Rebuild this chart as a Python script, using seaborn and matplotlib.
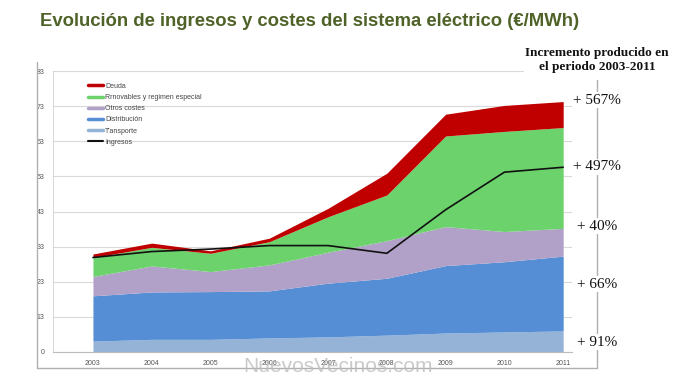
import numpy as np
import pandas as pd
import matplotlib
matplotlib.use("Agg")
import matplotlib.pyplot as plt
from matplotlib.lines import Line2D
import seaborn as sns

# ── data (€/MWh) ─────────────────────────────────────────
years = [2003, 2004, 2005, 2006, 2007, 2008, 2009, 2010, 2011]
transporte = [3.1, 3.6, 3.6, 4.0, 4.3, 4.8, 5.4, 5.7, 6.0]
distribucion = [12.9, 13.5, 13.6, 13.4, 15.3, 16.2, 19.2, 20.0, 21.3]
otros_costes = [5.5, 7.4, 5.7, 7.4, 8.8, 10.7, 11.1, 8.6, 7.9]
renovables = [5.4, 5.3, 5.2, 6.6, 10.1, 13.0, 25.8, 28.5, 28.7]
deuda = [1.0, 1.2, 0.7, 1.0, 2.4, 6.2, 6.2, 7.4, 7.4]
ingresos = [26.9, 28.6, 29.3, 30.3, 30.3, 28.1, 40.5, 51.2, 52.6]

ytick_vals = [0, 10, 20, 30, 40, 50, 60, 70, 80]
ytick_labels = ["0", "13", "23", "33", "43", "53", "63", "73", "83"]

increments = ["+ 567%", "+ 497%", "+ 40%", "+ 66%", "+ 91%"]

title = "Evolución de ingresos y costes del sistema eléctrico (€/MWh)"
side_header = "Incremento producido en\nel periodo 2003-2011"

colors = {
    "Deuda": "#c00000",
    "Rrnovables y regimen especial": "#6cd36c",
    "Otros costes": "#b1a0c7",
    "Distribución": "#558ed5",
    "T'ansporte": "#95b3d7",
}

# ── figure ───────────────────────────────────────────────
sns.set_style("white")
plt.rcParams["font.family"] = ["Liberation Sans", "DejaVu Sans"]

fig = plt.figure(figsize=(7, 3.84), dpi=100)
ax = fig.add_axes([53 / 700, 1 - 352 / 384, (572 - 53) / 700, (352 - 71) / 384])

ax.stackplot(years, transporte, distribucion, otros_costes, renovables, deuda,
             colors=["#95b3d7", "#558ed5", "#b1a0c7", "#6cd36c", "#c00000"],
             linewidth=0, zorder=2)

df = pd.DataFrame({"year": years, "ingresos": ingresos})
sns.lineplot(data=df, x="year", y="ingresos", color="#111111", lw=1.2,
             ax=ax, zorder=3)

ax.set_xlim(2002.32, 2011.15)
ax.set_ylim(0, 80)
ax.set_yticks(ytick_vals)
ax.set_yticklabels(ytick_labels)
ax.set_xticks(years)
ax.set_xticklabels([str(y) for y in years])
ax.tick_params(axis="both", labelsize=5, colors="#555555", length=0, pad=6)
ax.set_xlabel("")
ax.set_ylabel("")
ax.grid(axis="y", color="#d9d9d9", lw=0.8, zorder=0)
for s in ["top", "right"]:
    ax.spines[s].set_visible(False)
ax.spines["left"].set_color("#d0d0d0")
ax.spines["bottom"].set_color("#bbbbbb")
ax.spines["left"].set_linewidth(0.6)
ax.spines["bottom"].set_linewidth(0.8)

# legend
handles = [Line2D([0], [0], color=c, lw=2.5) for c in colors.values()]
handles.append(Line2D([0], [0], color="#111111", lw=1.5))
labels = ["Deuda", "Rrnovables y regimen especial", "Otros costes",
          "Distribución", "T'ansporte", "Ingresos"]
ax.legend(handles, labels, loc="upper left", bbox_to_anchor=(0.055, 0.98),
          frameon=False, fontsize=5, handlelength=2.2, handletextpad=0.3,
          labelspacing=0.6, labelcolor="#444444")

# outer chart frame
fig.add_artist(Line2D([37 / 700, 37 / 700], [1 - 368 / 384, 1 - 62 / 384],
                      color="#b0b0b0", lw=1))
fig.add_artist(Line2D([37 / 700, 597 / 700], [1 - 368 / 384, 1 - 368 / 384],
                      color="#b0b0b0", lw=1))
fig.add_artist(Line2D([597 / 700, 597 / 700], [1 - 368 / 384, 1 - 80 / 384],
                      color="#b0b0b0", lw=1))

# title
fig.text(40 / 700, 1 - 22 / 384, title, fontsize=13.3, fontweight="bold",
         color="#4f6228", va="center", ha="left")

# side annotations
serif = ["Liberation Serif", "DejaVu Serif"]
fig.text(597 / 700, 1 - 60 / 384, side_header, fontsize=9.5, ha="center",
         va="center", family=serif, fontweight="bold",
         color="#111111", linespacing=1.15,
         bbox=dict(facecolor="white", edgecolor="none", pad=1))
ys = [100, 167, 226, 284, 342]
for txt, py in zip(increments, ys):
    fig.text(597 / 700, 1 - py / 384, txt, fontsize=11, ha="center",
             va="center", family=serif, color="#111111",
             bbox=dict(facecolor="white", edgecolor="none", pad=1))

# watermark
fig.text(338 / 700, 1 - 366 / 384, "NuevosVecinos.com", fontsize=15,
         ha="center", va="center", color="#bdbdbd", alpha=0.8)

fig.savefig("out.png", dpi=100)
